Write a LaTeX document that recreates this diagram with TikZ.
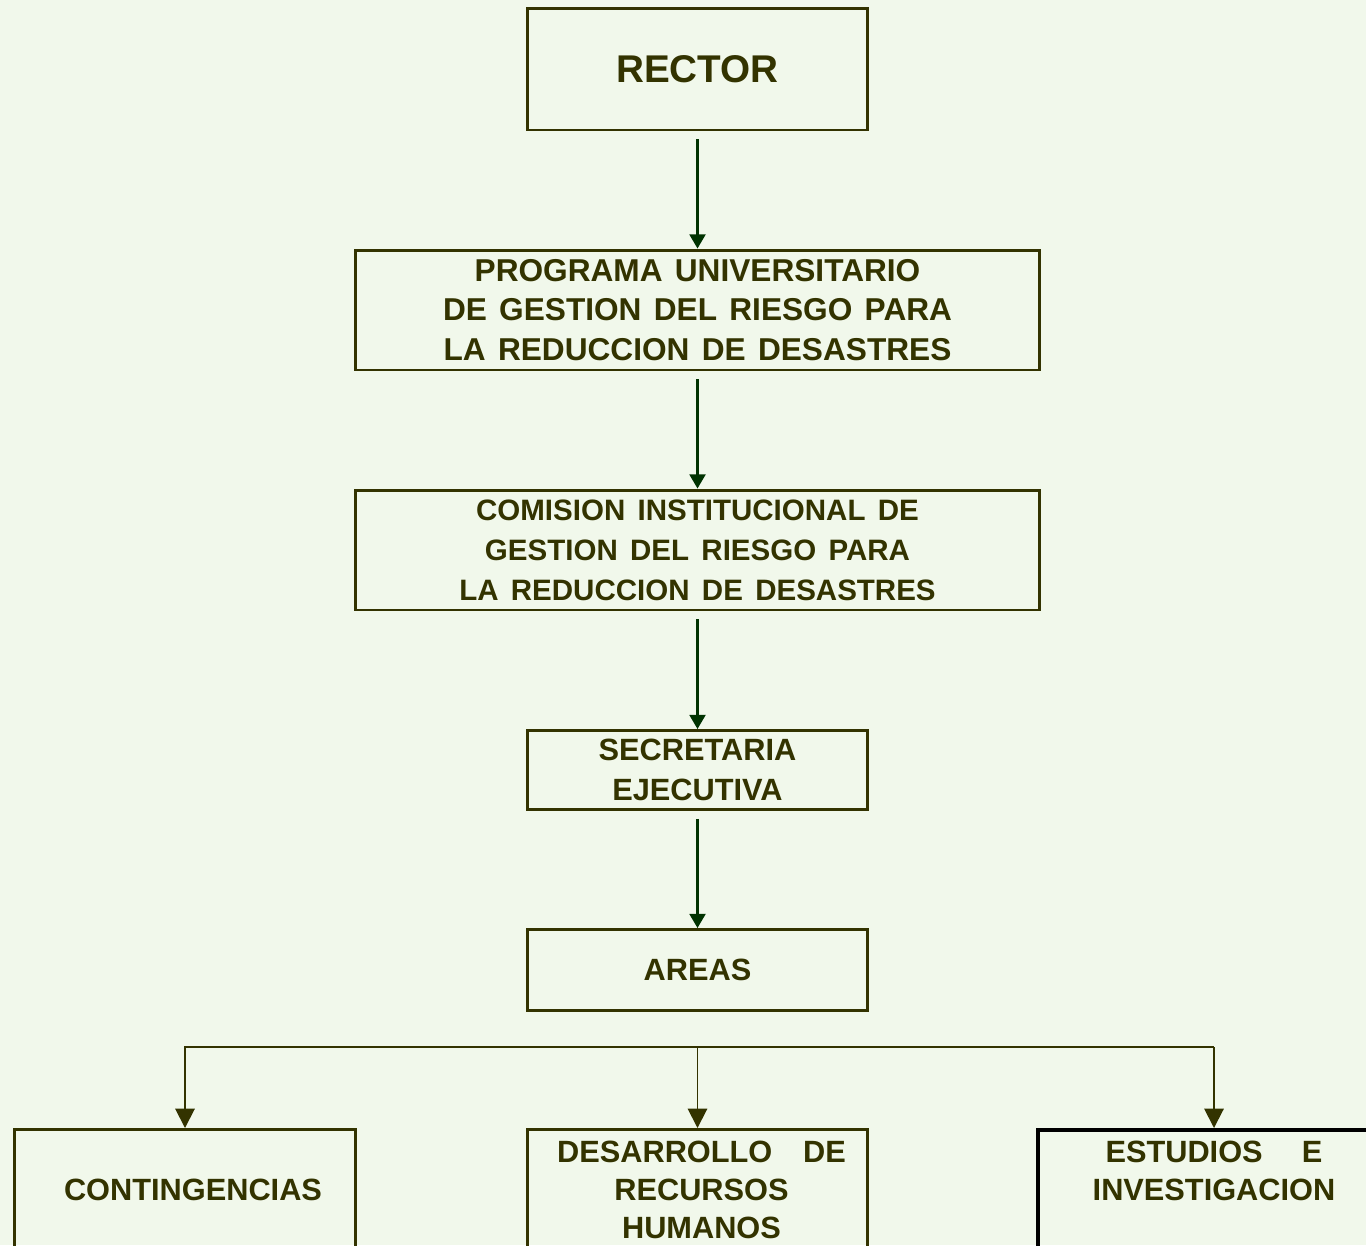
\documentclass[tikz,border=0pt]{standalone}
\usepackage{fontspec}
\setmainfont{Liberation Sans}
\usetikzlibrary{arrows.meta,positioning}

\definecolor{fondo}{HTML}{F1F8EB}
\definecolor{oliva}{HTML}{333300}
\definecolor{verde}{HTML}{003300}

\newcommand{\espacioancho}{\spaceskip 7pt plus 2pt\relax}

\tikzset{
  caja/.style={draw=oliva, line width=1.7pt, rectangle, inner sep=0pt,
    align=center, text=oliva,
    font=\bfseries\fontsize{17.5}{22.7}\selectfont},
  ancha/.style={caja, minimum width=13.68cm, minimum height=2.4cm},
  angosta/.style={caja, minimum width=6.82cm},
  rotulo/.style={align=center, text=oliva, inner sep=0pt,
    font=\bfseries\fontsize{17.5}{21.5}\selectfont},
  flecha/.style={draw=verde, line width=1.4pt, shorten <=4.5pt,
    -{Triangle[width=9pt,length=8pt]}},
  rama/.style={draw=oliva, line width=1.1pt},
  ramaflecha/.style={rama, -{Triangle[width=11pt,length=11pt]}}
}

\begin{document}
\begin{tikzpicture}[x=0.02cm,y=-0.02cm]
  \fill[fondo] (0,0) rectangle (1366,1245);
  \useasboundingbox (0,0) rectangle (1366,1245);

  % cadena central
  \node[angosta, minimum height=2.44cm, font=\bfseries\fontsize{22}{25}\selectfont] (rector) at (697.5,69) {RECTOR};
  \node[ancha, font=\bfseries\fontsize{18}{22.7}\selectfont\espacioancho] (prog) at (697.5,310) {PROGRAMA UNIVERSITARIO\\DE GESTION DEL RIESGO PARA\\LA REDUCCION DE DESASTRES};
  \node[ancha, font=\bfseries\fontsize{16.8}{22.7}\selectfont\espacioancho] (comision) at (697.5,550) {COMISION INSTITUCIONAL DE\\GESTION DEL RIESGO PARA\\LA REDUCCION DE DESASTRES};
  \node[angosta, minimum height=1.58cm] (secre) at (697.5,770) {SECRETARIA\\EJECUTIVA};
  \node[angosta, minimum height=1.62cm] (areas) at (697.5,970) {AREAS};

  \draw[flecha] (rector) -- (prog);
  \draw[flecha] (prog) -- (comision);
  \draw[flecha] (comision) -- (secre);
  \draw[flecha] (secre) -- (areas);

  % areas de trabajo
  \node[caja, anchor=north, minimum width=6.84cm, minimum height=2.9cm] (cont) at (185,1128) {};
  \node[caja, anchor=north, minimum width=6.82cm, minimum height=2.9cm] (desa) at (697.5,1128) {};
  \node[caja, anchor=north, draw=black, line width=2pt, minimum width=7.04cm, minimum height=2.9cm] (estu) at (1214,1128) {};

  \node[rotulo] (contT) at ([shift={(8,62)}]cont.north) {CONTINGENCIAS};
  \node[rotulo] (desaT) at ([shift={(4,62)}]desa.north) {DESARROLLO\hspace{1em}DE\\RECURSOS\\HUMANOS};
  \node[rotulo] (estuT) at ([yshift=-0.86cm]estu.north) {ESTUDIOS\quad\ E\\INVESTIGACION};

  \coordinate (ramaI) at (184,1047);
  \coordinate (ramaD) at (1214,1047);
  \draw[rama] (ramaI) -- (ramaD);
  \foreach \c in {cont,desa,estu}
    \draw[ramaflecha] (ramaI -| \c) -- (\c.north);
\end{tikzpicture}
\end{document}
